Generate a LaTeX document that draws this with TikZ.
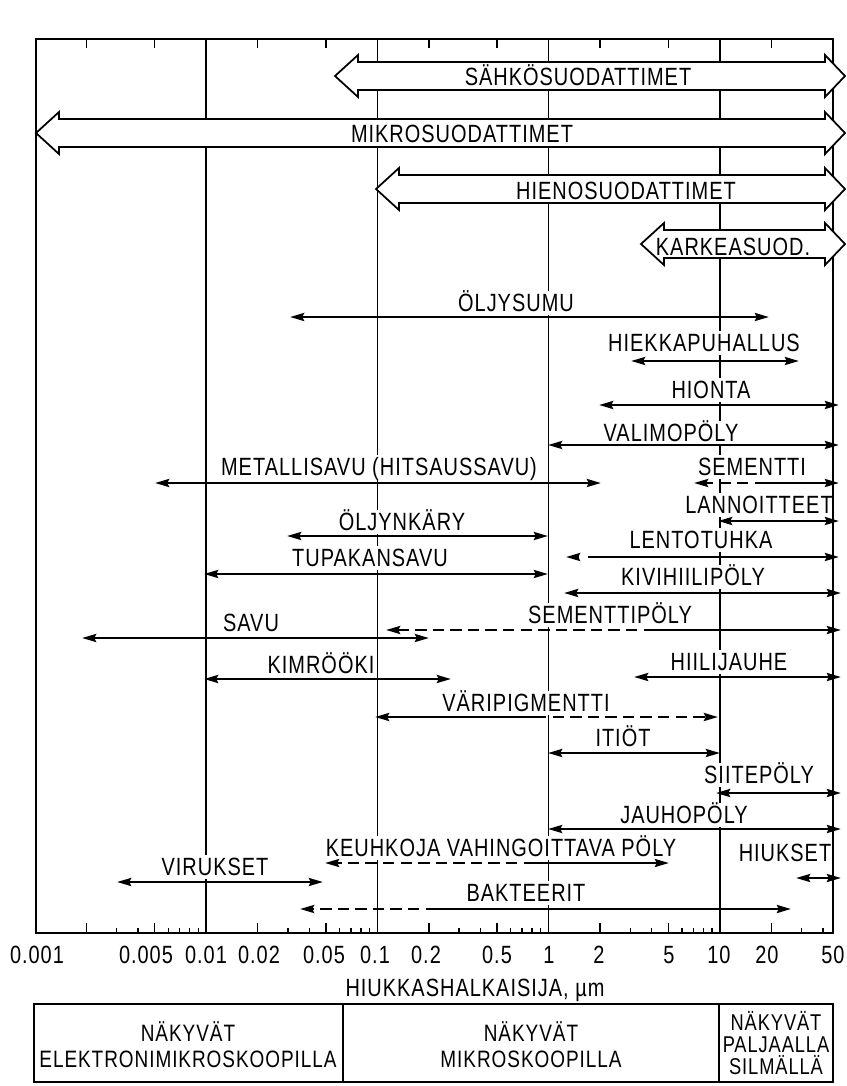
\documentclass[tikz,border=0pt]{standalone}
\usepackage{fontspec}
\setmainfont{Liberation Sans}[FakeStretch=0.8, LetterSpace=4]
\usetikzlibrary{arrows.meta}
\tikzstyle{decadeline} = [line width=0.8pt]
\tikzstyle{chartframe} = [line width=1.1pt]
\tikzstyle{filterarrow} = [draw=black, fill=white, line width=1pt]
\tikzstyle{sizerange} = [line width=1.5pt, <->]
\tikzstyle{dashpart} = [dash pattern=on 6.5pt off 3.5pt]
\tikzstyle{plainlabel} = [inner xsep=1pt, inner ysep=2pt, text height=10.2pt, text depth=0pt]
\tikzstyle{sizelabel} = [plainlabel, fill=white]
\tikzstyle{boxtext} = [align=center, inner sep=0pt, font=\fontsize{13.5}{14.7}\selectfont]

% hollow filter arrow: left tip x, centre y
\newcommand{\drawfilter}[2]{%
  \draw[filterarrow] (#1,#2) -- ({#1+23},{#2-21}) -- ({#1+23},{#2-14})
    -- (825,{#2-14}) -- (825,{#2-21}) -- (845,#2) -- (825,{#2+21})
    -- (825,{#2+14}) -- ({#1+23},{#2+14}) -- ({#1+23},{#2+21}) -- cycle;}

\begin{document}
\begin{tikzpicture}[x=0.02cm, y=-0.02cm,
    >={Stealth[length=8pt,width=4.5pt,inset=1pt]},
    font=\fontsize{14.2}{16}\selectfont]
    \useasboundingbox (0,0) rectangle (846,1086);

    % decades and ticks
    \foreach \d in {1,2,3,4} {
        \pgfmathsetmacro\tx{35+171.2*\d}
        \draw[decadeline] (\tx,39) -- (\tx,933);
    }
    \foreach \d/\mmax in {0/9,1/9,2/9,3/9,4/4} {
        \foreach \m in {2,...,\mmax} {
            \pgfmathsetmacro\tx{35+171.2*(\d+log10(\m))}
            \pgfmathsetmacro\tl{(\m==2||\m==5) ? 10 : 5}
            \draw[decadeline] (\tx,933) -- ++(0,-\tl);
        }
    }
    \foreach \d/\m in {0/2,0/5,1/2,1/5,2/2,2/5,3/2,3/5,4/2} {
        \pgfmathsetmacro\tx{35+171.2*(\d+log10(\m))}
        \draw[decadeline] (\tx,39) -- ++(0,9);
    }

    % particle ranges
    \node[sizelabel] (oljysumu) at (516,303) {ÖLJYSUMU};
    \draw[sizerange] (290,317) -- (769,317);
    \node[sizelabel] (hiekka) at (704,343) {HIEKKAPUHALLUS};
    \draw[sizerange] (631,361) -- (799,361);
    \node[sizelabel] (hionta) at (711,390) {HIONTA};
    \draw[sizerange] (599,405) -- (839,405);
    \node[sizelabel] (valimo) at (671,433) {VALIMOPÖLY};
    \draw[sizerange] (548,445) -- (839,445);
    \node[sizelabel] (metalli) at (379,467) {METALLISAVU (HITSAUSSAVU)};
    \draw[sizerange] (155,483) -- (601,483);
    \node[sizelabel] (sementti) at (752,467) {SEMENTTI};
    \draw[sizerange, dashpart, ->] (766,483) -- (694,483);
    \draw[sizerange, ->] (766,483) -- (839,483);
    \node[sizelabel] (lannoitteet) at (759,505) {LANNOITTEET};
    \draw[sizerange] (718,521) -- (839,521);
    \node[sizelabel] (oljynkary) at (402,522) {ÖLJYNKÄRY};
    \draw[sizerange] (287,536) -- (548,536);
    \node[sizelabel] (lentotuhka) at (701,540) {LENTOTUHKA};
    \draw[sizerange, ->] (578,557) -- (566,557);
    \draw[sizerange, ->] (588,557) -- (839,557);
    \node[sizelabel] (tupakansavu) at (370,558) {TUPAKANSAVU};
    \draw[sizerange] (204,574) -- (548,574);
    \node[sizelabel] (kivihiili) at (693,577) {KIVIHIILIPÖLY};
    \draw[sizerange] (564,593) -- (841,593);
    \node[sizelabel] (sementtipoly) at (610,615) {SEMENTTIPÖLY};
    \draw[sizerange, dashpart, ->] (655,630) -- (386,630);
    \draw[sizerange, ->] (655,630) -- (841,630);
    \node[sizelabel] (savu) at (251,623) {SAVU};
    \draw[sizerange] (82,638) -- (429,638);
    \node[sizelabel] (hiilijauhe) at (729,662) {HIILIJAUHE};
    \draw[sizerange] (634,677) -- (841,677);
    \node[sizelabel] (kimrooki) at (321,665) {KIMRÖÖKI};
    \draw[sizerange] (204,679) -- (451,679);
    \node[sizelabel] (varipigmentti) at (526,703) {VÄRIPIGMENTTI};
    \draw[sizerange, ->] (535,717) -- (375,717);
    \draw[sizerange, dashpart, ->] (535,717) -- (718,717);
    \node[sizelabel] (itiot) at (623,738) {ITIÖT};
    \draw[sizerange] (548,753) -- (720,753);
    \node[sizelabel] (siitepoly) at (759,775) {SIITEPÖLY};
    \draw[sizerange] (716,793) -- (841,793);
    \node[sizelabel] (jauhopoly) at (684,815) {JAUHOPÖLY};
    \draw[sizerange] (548,829) -- (841,829);
    \node[sizelabel] (keuhkoja) at (501,848) {KEUHKOJA VAHINGOITTAVA PÖLY};
    \draw[sizerange, dashpart, ->] (535,863) -- (325,863);
    \draw[sizerange, ->] (535,863) -- (669,863);
    \node[sizelabel] (hiukset) at (785,853) {HIUKSET};
    \draw[sizerange] (796,878) -- (841,878);
    \node[sizelabel] (virukset) at (215,867) {VIRUKSET};
    \draw[sizerange] (117,882) -- (323,882);
    \node[sizelabel] (bakteerit) at (526,893) {BAKTEERIT};
    \draw[sizerange, dashpart, ->] (437,909) -- (300,909);
    \draw[sizerange, ->] (437,909) -- (791,909);

    \draw[chartframe] (36,39) rectangle (833,933);

    % filters
    \drawfilter{335}{76}
    \node[plainlabel] (sahko) at (578,77) {SÄHKÖSUODATTIMET};
    \drawfilter{36}{133}
    \node[plainlabel] (mikro) at (462,134) {MIKROSUODATTIMET};
    \drawfilter{376}{189}
    \node[plainlabel] (hieno) at (626,191) {HIENOSUODATTIMET};
    \drawfilter{641}{244}
    \node[plainlabel] (karkea) at (733,247) {KARKEASUOD.};

    % axis
    \foreach \xx/\lab [count=\i] in {37/0.001,146/0.005,206/0.01,259/0.02,324/0.05,
        375/0.1,426/0.2,497/0.5,549/1,599/2,669/5,719/10,767/20,833/50}
        \node[plainlabel] (tick\i) at (\xx,955) {\lab};
    \node[plainlabel] (axistitle) at (475,988) {HIUKKASHALKAISIJA, µm};

    % visibility box
    \draw[chartframe] (34,1004) rectangle (833,1082);
    \draw[chartframe] (343,1004) -- (343,1082);
    \draw[chartframe] (719,1004) -- (719,1082);
    \node[boxtext] (electron) at (188,1045) {NÄKYVÄT\\ELEKTRONIMIKROSKOOPILLA};
    \node[boxtext] (micro) at (531,1045) {NÄKYVÄT\\MIKROSKOOPILLA};
    \node[boxtext, font=\fontsize{13}{12.5}\selectfont] (naked) at (776,1043)
        {NÄKYVÄT\\PALJAALLA\\SILMÄLLÄ};
\end{tikzpicture}
\end{document}
